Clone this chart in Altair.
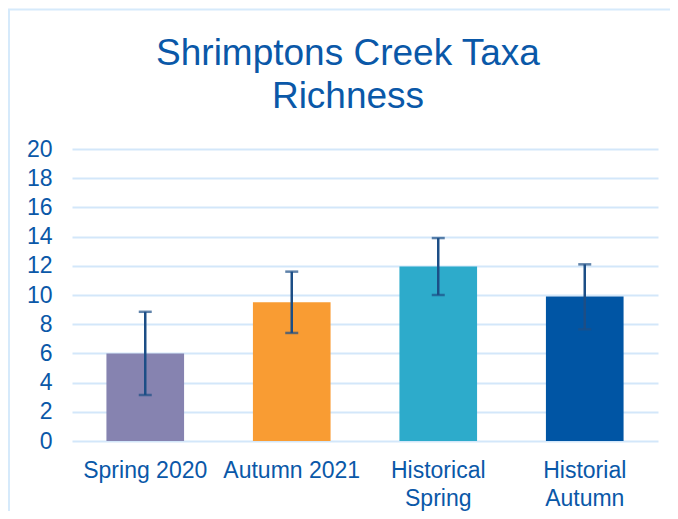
import altair as alt
import pandas as pd

categories = ["Spring 2020", "Autumn 2021", "Historical Spring", "Historial Autumn"]
means = [6.0, 9.5, 11.95, 9.9]
err_low = [3.15, 7.4, 10.0, 7.65]
err_high = [8.85, 11.6, 13.9, 12.1]
bar_colors = ["#8683B0", "#F99C33", "#2DABCB", "#0055A4"]
y_ticks = [0, 2, 4, 6, 8, 10, 12, 14, 16, 18, 20]

df = pd.DataFrame({"cat": categories, "mean": means, "lo": err_low, "hi": err_high})

FONT = "Liberation Sans"
TXT = "#0A58A8"
ERR = "#1C4E86"
FRAME = "#D6EAFB"

x_axis = alt.Axis(title=None, labelAngle=0, labelFontSize=23, labelColor=TXT,
                  labelFont=FONT, labelPadding=18, labelLineHeight=28,
                  labelBaseline="top",
                  labelExpr="indexof(datum.label, 'Histori') == 0 ? split(datum.label, ' ') : datum.label",
                  domain=False, ticks=False, grid=False)
x_scale = alt.Scale(paddingInner=0.47, paddingOuter=0.235)
y_axis = alt.Axis(title=None, values=y_ticks, labelFontSize=23, labelColor=TXT,
                  labelFont=FONT, labelPadding=20, labelOverlap=False,
                  domain=False, ticks=False,
                  grid=True, gridColor="#D3E7FA", gridWidth=2)
y_scale = alt.Scale(domain=[0, 20], nice=False)


def xe():
    return alt.X("cat:N", sort=categories, scale=x_scale, axis=x_axis)


def ye(field):
    return alt.Y(field, type="quantitative", scale=y_scale, axis=y_axis)


bars = alt.Chart(df).mark_bar().encode(
    x=xe(), y=ye("mean"),
    color=alt.Color("cat:N", sort=categories,
                    scale=alt.Scale(domain=categories, range=bar_colors), legend=None),
)

rule = alt.Chart(df).mark_rule(color=ERR, strokeWidth=2.5).encode(
    x=xe(), y=ye("lo"), y2="hi:Q")
tick_lo = alt.Chart(df).mark_tick(color=ERR, size=13, thickness=2.5).encode(
    x=xe(), y=ye("lo"))
tick_hi = alt.Chart(df).mark_tick(color=ERR, size=13, thickness=2.5).encode(
    x=xe(), y=ye("hi"))

frame_left = alt.Chart(df.head(1)).mark_rule(color=FRAME, strokeWidth=2).encode(
    x=alt.value(-63), y=alt.value(-140), y2=alt.value(400))
frame_top = alt.Chart(df.head(1)).mark_rule(color=FRAME, strokeWidth=2).encode(
    x=alt.value(-64), x2=alt.value(620), y=alt.value(-139.5))

chart = alt.layer(frame_left, frame_top, bars, rule, tick_lo, tick_hi).properties(
    width=586, height=292,
    background="white",
    title=alt.TitleParams(["Shrimptons Creek Taxa", "Richness"], fontSize=37, font=FONT,
                          fontWeight="normal", color=TXT, lineHeight=43, anchor="middle",
                          dx=-17, dy=108, offset=0),
    autosize=alt.AutoSizeParams(type="none"),
    padding={"left": 64, "top": 141, "right": 12, "bottom": 70},
).configure_view(strokeWidth=0)

chart.save("out.html", embed_options={"renderer": "svg", "actions": False})
